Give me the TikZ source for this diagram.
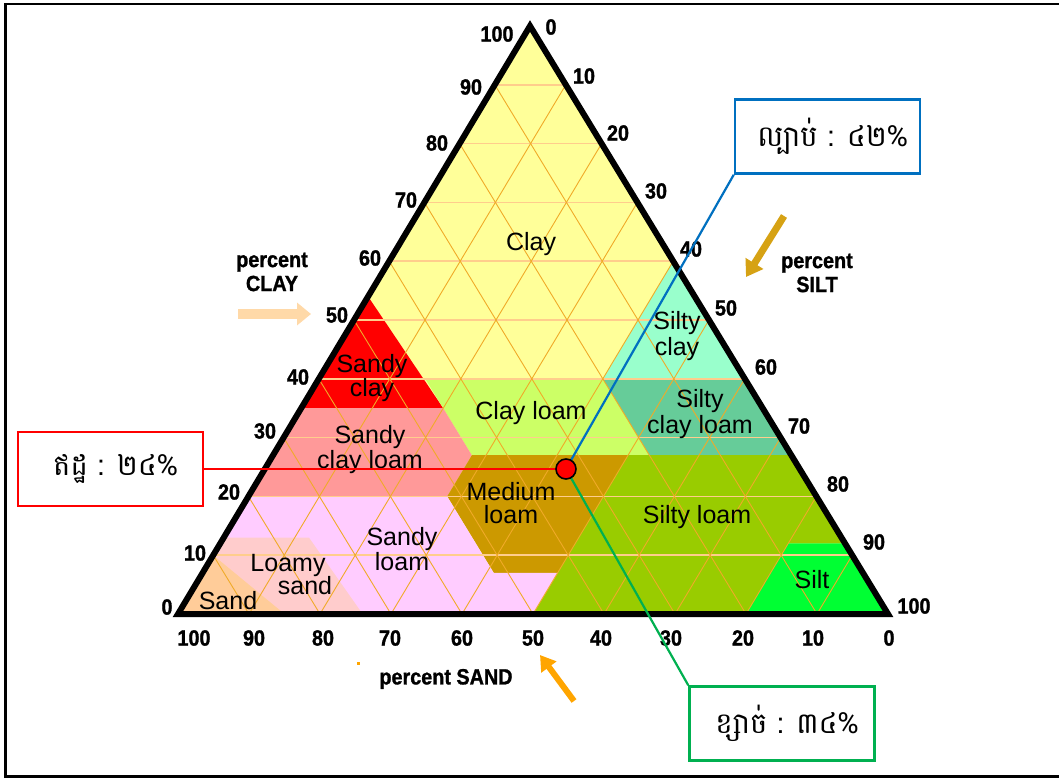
\documentclass[tikz,border=0pt]{standalone}
\usepackage{fontspec}
\setmainfont{Liberation Sans}
\newfontfamily\regfont{Liberation Sans}
\newfontfamily\tickfont[FakeStretch=0.9,FakeBold=1.2]{Liberation Sans}
\newfontfamily\khmerfont[Script=Khmer]{Battambang}
\usetikzlibrary{arrows.meta}

\definecolor{clayc}{HTML}{FFFF99}
\definecolor{sclayc}{HTML}{FF0000}
\definecolor{sclayloamc}{HTML}{FF9999}
\definecolor{clayloamc}{HTML}{CCFF66}
\definecolor{siltyclayc}{HTML}{99FFCC}
\definecolor{siltyclayloamc}{HTML}{66CC99}
\definecolor{medloamc}{HTML}{CC9900}
\definecolor{siltloamc}{HTML}{99CC00}
\definecolor{siltc}{HTML}{00FF33}
\definecolor{sandyloamc}{HTML}{FFCCFF}
\definecolor{loamysandc}{HTML}{FFCCCC}
\definecolor{sandc}{HTML}{FFCC99}
\definecolor{hgridc}{RGB}{255,205,140}
\definecolor{dgridc}{RGB}{240,170,40}
\definecolor{boxblue}{RGB}{0,112,192}
\definecolor{boxred}{RGB}{255,0,0}
\definecolor{boxgreen}{RGB}{0,176,80}
\definecolor{clayarrowc}{RGB}{255,217,168}
\definecolor{siltarrowc}{RGB}{214,162,20}
\definecolor{sandarrowc}{RGB}{255,165,0}

\makeatletter
\tikzset{tern/.cd, c/.store in=\tern@c, s/.store in=\tern@s, c=0, s=0}
\tikzdeclarecoordinatesystem{tern}{%
  \tikzset{tern/.cd,#1}%
  \pgfmathsetmacro\ternx{178+3.52*(\tern@c)+7.10*(\tern@s)}%
  \pgfmathsetmacro\terny{614-5.88*(\tern@c)}%
  \pgfpointxy{\ternx}{\terny}}
\makeatother

\begin{document}
\begin{tikzpicture}[x=1pt,y=-1pt,
  reg/.style={font=\regfont\fontsize{25}{24}\selectfont, align=center, inner sep=0pt},
  tick/.style={font=\tickfont\bfseries\fontsize{22}{24}\selectfont, inner sep=0pt, align=center},
  box/.style={draw, line width=2.5pt, fill=white, minimum width=185pt, minimum height=74pt, inner sep=0pt, font=\khmerfont\fontsize{29}{30}\selectfont},
  hgrid/.style={draw=hgridc, line width=1.5pt},
  dgrid/.style={draw=dgridc, line width=0.9pt},
  lead/.style={line width=2.2pt},
  dot/.style={circle, fill=red, draw=black, line width=1.6pt, minimum size=20pt, inner sep=0pt}]
\useasboundingbox (0,0) rectangle (1059,778);
\fill[white] (0,0) rectangle (1059,778);
% frame
\draw[line width=2.7pt] (1059,4) -- (5.5,4) -- (5.5,776.5) -- (1059,776.5);

% regions
\fill[clayc] (tern cs:c=100,s=0) -- (tern cs:c=0,s=0) -- (tern cs:c=0,s=100) -- cycle;
\fill[sclayc] (tern cs:c=54,s=0) -- (tern cs:c=35,s=0) -- (tern cs:c=35,s=20) -- cycle;
\fill[siltyclayc] (tern cs:c=60,s=40) -- (tern cs:c=40,s=40) -- (tern cs:c=40,s=60) -- cycle;
\fill[clayloamc] (tern cs:c=40,s=15) -- (tern cs:c=40,s=40) -- (tern cs:c=27,s=53) -- (tern cs:c=27,s=28) -- cycle;
\fill[siltyclayloamc] (tern cs:c=40,s=40) -- (tern cs:c=40,s=60) -- (tern cs:c=27,s=73) -- (tern cs:c=27,s=53) -- cycle;
\fill[sclayloamc] (tern cs:c=35,s=0) -- (tern cs:c=35,s=20) -- (tern cs:c=27,s=28) -- (tern cs:c=20,s=28) -- (tern cs:c=20,s=0) -- cycle;
\fill[medloamc] (tern cs:c=27,s=28) -- (tern cs:c=27,s=50) -- (tern cs:c=7,s=50) -- (tern cs:c=7,s=41) -- (tern cs:c=20,s=28) -- cycle;
\fill[siltloamc] (tern cs:c=27,s=50) -- (tern cs:c=27,s=73) -- (tern cs:c=12,s=88) -- (tern cs:c=12,s=80) -- (tern cs:c=0,s=80) -- (tern cs:c=0,s=50) -- (tern cs:c=7,s=50) -- cycle;
\fill[siltc] (tern cs:c=12,s=88) -- (tern cs:c=0,s=100) -- (tern cs:c=0,s=80) -- (tern cs:c=12,s=80) -- cycle;
\fill[sandyloamc] (tern cs:c=20,s=0) -- (tern cs:c=20,s=28) -- (tern cs:c=7,s=41) -- (tern cs:c=7,s=50) -- (tern cs:c=0,s=50) -- (tern cs:c=0,s=0) -- cycle;
\fill[loamysandc] (tern cs:c=13,s=0) -- (tern cs:c=13,s=12) -- (tern cs:c=0,s=26) -- (tern cs:c=0,s=0) -- cycle;
\fill[sandc] (tern cs:c=10,s=0) -- (tern cs:c=0,s=15) -- (tern cs:c=0,s=0) -- cycle;

% grid
\foreach \k in {10,20,...,90} {
  \draw[hgrid] (tern cs:c=\k,s=0) -- (tern cs:c=\k,s={100-\k});
}
\foreach \k in {10,20,...,90} {
  \draw[dgrid] (tern cs:c=0,s=\k) -- (tern cs:c={100-\k},s=\k);
  \draw[dgrid] (tern cs:c=0,s=\k) -- (tern cs:c=\k,s=0);
}

% outline
\draw[line width=6pt, line join=miter] (tern cs:c=100,s=0) -- (tern cs:c=0,s=0) -- (tern cs:c=0,s=100) -- cycle;

% region labels
\node[reg] (lclay) at (531,244) {Clay};
\node[reg] (lsclay) at (372,378) {Sandy\\clay};
\node[reg] (lclayloam) at (531,413) {Clay loam};
\node[reg] (lsiltyclay) at (677,336) {Silty\\[2pt]clay};
\node[reg] (lsiltyclayloam) at (700,414) {Silty\\[2pt]clay loam};
\node[reg] (lsclayloam) at (370,450) {Sandy\\[1pt]clay loam};
\node[reg] (lmedloam) at (511,503) {Medium\\[-1pt]loam};
\node[reg] (lsiltloam) at (697,517) {Silty loam};
\node[reg] (lsandyloam) at (402,549) {Sandy\\[1pt]loam};
\node[reg] (lloamysand) at (288,575) {Loamy\\[-1pt]\hspace*{34pt}sand};
\node[reg] (lsand) at (228,601) {Sand};
\node[reg] (lsilt) at (812,580) {Silt};

% tick labels: clay (left)
\foreach \t/\x/\y in {100/497/34, 90/471/87, 80/437/143, 70/406/200, 60/370/258, 50/337/315, 40/298/377, 30/265/431, 20/229/492, 10/195/553, 0/167/607}
  \node[tick] (cl\t) at (\x,\y) {\t};
% silt (right)
\foreach \t/\x/\y in {0/551/27, 10/584/76, 20/618/133, 30/656/191, 40/691/249, 50/726/308, 60/766/367, 70/799/426, 80/838/484, 90/874/542, 100/914/606}
  \node[tick] (si\t) at (\x,\y) {\t};
% sand (bottom)
\foreach \t/\x in {100/194, 90/254, 80/323, 70/390, 60/462, 50/533, 40/601, 30/671, 20/743, 10/813, 0/889}
  \node[tick] (sa\t) at (\x,638) {\t};

% axis titles
\node[tick] (tclay) at (272,272) {percent\\CLAY};
\node[tick] (tsilt) at (817,273) {percent\\SILT};
\node[tick] (tsand) at (446,679) {percent SAND};

% direction arrows
\coordinate (ca1) at (238,314);
\coordinate (ca2) at (311,314);
\draw[clayarrowc, line width=10pt, -{Triangle[length=14pt,width=22pt]}] (ca1) -- (ca2);
\coordinate (sia1) at (784,216);
\coordinate (sia2) at (746,277);
\draw[siltarrowc, line width=7pt, -{Triangle[length=16pt,width=20pt]}] (sia1) -- (sia2);
\coordinate (saa1) at (574,701);
\coordinate (saa2) at (540,655);
\draw[sandarrowc, line width=6pt, -{Triangle[length=15pt,width=18pt]}] (saa1) -- (saa2);
\fill[sandarrowc] (357,662) rectangle (360,665);

% callout boxes
\node[box, draw=boxblue] (siltbox) at (827.5,136.5) {\hspace*{10pt}ល្បាប់ : ៤២\%};
\node[box, draw=boxred] (claybox) at (110.5,469) {\hspace*{10pt}ឥដ្ឋ : ២៤\%};
\node[box, draw=boxgreen] (sandbox) at (782,723.5) {\hspace*{10pt}ខ្សាច់ : ៣៤\%};

% leaders and point
\coordinate (pt) at (566,469);
\draw[lead, boxblue] (pt) -- (siltbox.south west);
\draw[lead, boxgreen] (pt) -- (sandbox.north west);
\draw[lead, boxred] (claybox.east) -- (pt);
\node[dot] (dotnode) at (pt) {};
\end{tikzpicture}
\end{document}
